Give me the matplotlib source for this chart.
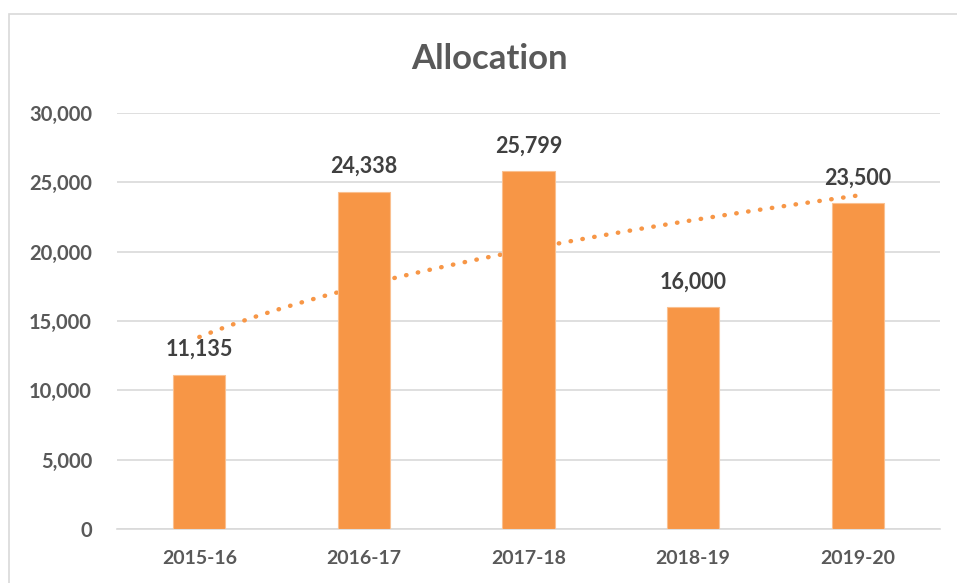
import numpy as np
import matplotlib
matplotlib.use("Agg")
import matplotlib.pyplot as plt
from matplotlib.patches import Rectangle

categories = ["2015-16", "2016-17", "2017-18", "2018-19", "2019-20"]
values = [11135, 24338, 25799, 16000, 23500]
yticks = [0, 5000, 10000, 15000, 20000, 25000, 30000]
title = "Allocation"

bar_color = "#F79646"
text_gray = "#595959"
label_dark = "#404040"
grid_gray = "#D9D9D9"

plt.rcParams['font.family'] = ['Lato', 'DejaVu Sans']

fig = plt.figure(figsize=(9.57, 5.83), dpi=100)
ax = fig.add_axes([117/957, 1-529/583, (940-117)/957, (529-113)/583])

x = np.arange(len(categories))
ax.bar(x, values, width=0.316, color=bar_color, edgecolor="#FAC090", linewidth=0.8, zorder=3)

# Power trendline (Excel-style) fitted from the data
n = np.arange(1, len(values) + 1)
b, a = np.polyfit(np.log(n), np.log(values), 1)
xt = np.linspace(1, len(values), 200)
yt = np.exp(a) * xt ** b
ax.plot(xt - 1, yt, color=bar_color, linestyle=(0, (0.1, 2.6)), linewidth=3.2,
        dash_capstyle='round', zorder=2)

for xi, v in zip(x, values):
    ax.text(xi, v + 1050, f"{v:,}", ha="center", va="bottom", fontsize=15.5,
            fontweight="bold", color=label_dark, zorder=4)

ax.set_xlim(-0.5, len(categories) - 0.5)
ax.set_ylim(0, 30000)
ax.set_yticks(yticks)
ax.set_yticklabels([f"{t:,}" for t in yticks], fontsize=14.5, fontweight="bold", color=text_gray)
ax.set_xticks(x)
ax.set_xticklabels(categories, fontsize=14, fontweight="bold", color=text_gray)
ax.tick_params(axis="both", length=0)
ax.tick_params(axis="y", pad=18)
ax.tick_params(axis="x", pad=15)
ax.yaxis.grid(True, color=grid_gray, linewidth=1.2, zorder=0)
ax.set_axisbelow(True)
for s in ["top", "right", "left"]:
    ax.spines[s].set_visible(False)
ax.spines["bottom"].set_color(grid_gray)
ax.spines["bottom"].set_linewidth(1.2)

fig.text(490/957, 1-59/583, title, ha="center", va="center", fontsize=25,
         fontweight="bold", color=text_gray)

# chart border
fig.patches.append(Rectangle((9/957, -0.1), 1.1, 1.1 - 14/583, transform=fig.transFigure,
                             fill=False, edgecolor=grid_gray, linewidth=1.2))

fig.savefig("out.png", dpi=100)
